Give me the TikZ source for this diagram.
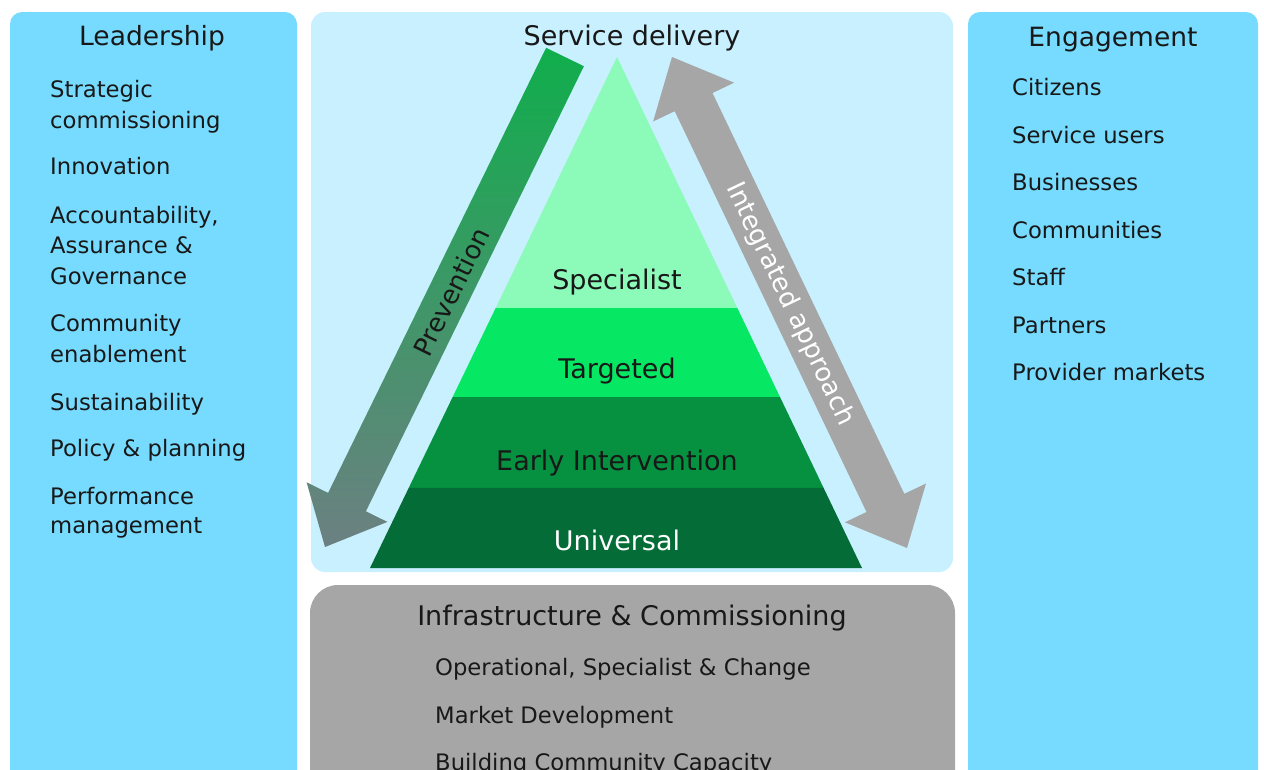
\documentclass[tikz,border=0pt]{standalone}
\usepackage{fontspec}
\setmainfont{DejaVu Sans}
\usetikzlibrary{calc}

\definecolor{sideblue}{RGB}{118,219,255}
\definecolor{paleblue}{RGB}{200,240,255}
\definecolor{infragray}{RGB}{166,166,166}
\definecolor{ink}{RGB}{24,24,24}
\definecolor{tierA}{RGB}{140,250,184}
\definecolor{tierB}{RGB}{6,232,100}
\definecolor{tierC}{RGB}{5,145,64}
\definecolor{tierD}{RGB}{4,108,55}
\definecolor{prevtop}{RGB}{16,174,76}
\definecolor{prevbot}{RGB}{108,128,130}

\begin{document}
\begin{tikzpicture}[x=1pt,y=1pt,
  heading/.style={font=\fontsize{26.5}{30}\selectfont, text=ink, inner sep=0, anchor=base},
  entry/.style={font=\fontsize{22.7}{28}\selectfont, text=ink, inner sep=0, anchor=base west},
  tier/.style={font=\fontsize{27}{30}\selectfont, text=ink, inner sep=0, anchor=base},
  arrowlabel/.style={font=\fontsize{26}{30}\selectfont, inner sep=0}]

\useasboundingbox (0,0) rectangle (1264,-769);
\clip (0,0) rectangle (1264,-769);

% background panels
\fill[sideblue, rounded corners=12pt] (10,-12) rectangle (297,-800);
\fill[paleblue, rounded corners=14pt] (311,-12) rectangle (953,-572);
\fill[sideblue, rounded corners=12pt] (968,-12) rectangle (1258,-800);
\fill[infragray, rounded corners=28pt] (310,-585) rectangle (955,-800);

% pyramid of service tiers
\coordinate (apex) at (617,-57);
\coordinate (bl) at (370,-568);
\coordinate (br) at (862,-568);
\coordinate (l1) at ($(apex)!0.4912!(bl)$);
\coordinate (r1) at ($(apex)!0.4912!(br)$);
\coordinate (l2) at ($(apex)!0.6654!(bl)$);
\coordinate (r2) at ($(apex)!0.6654!(br)$);
\coordinate (l3) at ($(apex)!0.8434!(bl)$);
\coordinate (r3) at ($(apex)!0.8434!(br)$);
\fill[tierA] (apex) -- (r1) -- (l1) -- cycle;
\fill[tierB] (l1) -- (r1) -- (r2) -- (l2) -- cycle;
\fill[tierC] (l2) -- (r2) -- (r3) -- (l3) -- cycle;
\fill[tierD] (l3) -- (r3) -- (br) -- (bl) -- cycle;

\node[tier] (specialist) at (617,-289) {Specialist};
\node[tier] (targeted) at (617,-378) {Targeted};
\node[tier] (early) at (617,-470) {Early Intervention};
\node[tier, text=white] (universal) at (617,-550) {Universal};

% prevention arrow (green fading to grey-teal)
\path[top color=prevtop, bottom color=prevbot]
  (583.9,-66.2) -- (365.9,-511.3) -- (387.4,-521.9) -- (325,-547)
  -- (306.6,-482.3) -- (328.1,-492.9) -- (546.1,-47.8) -- cycle;
\node[arrowlabel, text=ink, rotate=63.9] (prevention) at (451,-292) {Prevention};

% integrated approach double arrow
\fill[infragray]
  (672,-57) -- (734.1,-82.7) -- (712.5,-93.0) -- (904.3,-493.8) -- (926,-483.5)
  -- (907,-548) -- (844.9,-522.3) -- (866.5,-512.0) -- (674.7,-111.2)
  -- (653.1,-121.5) -- cycle;
\node[arrowlabel, text=white, rotate=-64.4] (integrated) at (790,-304) {Integrated approach};

\node[heading, font=\fontsize{27}{30}\selectfont] (service) at (632,-45) {Service delivery};

% leadership column
\node[heading] (leadership) at (152,-45) {Leadership};
\node[entry] (l01) at (50,-97) {Strategic};
\node[entry] (l02) at (50,-128) {commissioning};
\node[entry] (l03) at (50,-174) {Innovation};
\node[entry] (l04) at (50,-223) {Accountability,};
\node[entry] (l05) at (50,-253) {Assurance \&};
\node[entry] (l06) at (50,-284) {Governance};
\node[entry] (l07) at (50,-331) {Community};
\node[entry] (l08) at (50,-362) {enablement};
\node[entry] (l09) at (50,-410) {Sustainability};
\node[entry] (l10) at (50,-456) {Policy \& planning};
\node[entry] (l11) at (50,-504) {Performance};
\node[entry] (l12) at (50,-533) {management};

% engagement column
\node[heading] (engagement) at (1113,-46) {Engagement};
\node[entry] (e1) at (1012,-95) {Citizens};
\node[entry] (e2) at (1012,-143) {Service users};
\node[entry] (e3) at (1012,-190) {Businesses};
\node[entry] (e4) at (1012,-238) {Communities};
\node[entry] (e5) at (1012,-285) {Staff};
\node[entry] (e6) at (1012,-333) {Partners};
\node[entry] (e7) at (1012,-380) {Provider markets};

% infrastructure panel
\node[heading, font=\fontsize{27}{30}\selectfont] (infra) at (632,-625) {Infrastructure \& Commissioning};
\node[entry] (i1) at (435,-675) {Operational, Specialist \& Change};
\node[entry] (i2) at (435,-723) {Market Development};
\node[entry] (i3) at (435,-770) {Building Community Capacity};

\end{tikzpicture}
\end{document}
